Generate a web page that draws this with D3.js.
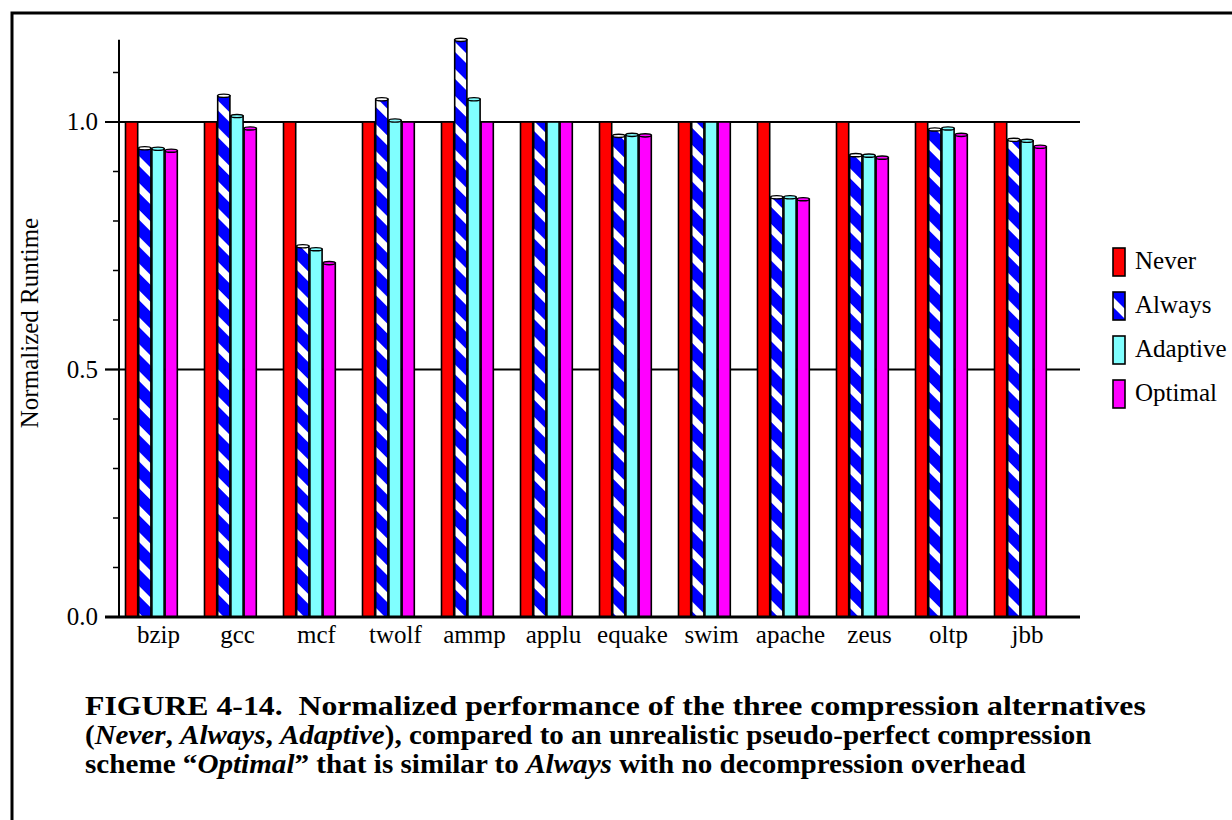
<!DOCTYPE html>
<html><head><meta charset="utf-8">
<script src="https://cdn.jsdelivr.net/npm/d3@7"></script>
<style>
html,body{margin:0;padding:0;background:#fff;}
svg{display:block;}
svg text{font-family:"Liberation Serif","Tinos","Times New Roman",Times,"DejaVu Serif",serif;}
</style>
</head><body>
<svg id="chart" width="1232" height="820"></svg>
<script>
const categories = ["bzip","gcc","mcf","twolf","ammp","applu","equake","swim","apache","zeus","oltp","jbb"];
const seriesNames = ["Never","Always","Adaptive","Optimal"];
const neverVals    = [1.0,1.0,1.0,1.0,1.0,1.0,1.0,1.0,1.0,1.0,1.0,1.0];
const alwaysVals   = [0.947,1.053,0.749,1.046,1.166,1.0,0.972,1.0,0.848,0.933,0.985,0.964];
const adaptiveVals = [0.946,1.012,0.743,1.003,1.046,1.0,0.974,1.0,0.848,0.932,0.987,0.962];
const optimalVals  = [0.942,0.987,0.715,1.0,1.0,1.0,0.973,1.0,0.844,0.928,0.974,0.950];
const yTickLabels = ["0.0","0.5","1.0"];
const yTickValues = [0, 0.5, 1.0];
const seriesValues = [neverVals, alwaysVals, adaptiveVals, optimalVals];

const svg = d3.select("#chart");

// defs: stripe pattern
const defs = svg.append("defs");
const pat = defs.append("pattern").attr("id","stripes").attr("patternUnits","userSpaceOnUse")
  .attr("width",19).attr("height",10).attr("patternTransform","rotate(-45)");
pat.append("rect").attr("width",19).attr("height",10).attr("fill","#0000ff");
pat.append("rect").attr("x",0).attr("width",7).attr("height",10).attr("fill","#ffffff");

const fills = ["#ff0000","url(#stripes)","#80ffff","#ff00ff"];
const capFills = ["#ff0000","#ffffff","#80ffff","#ff00ff"];

// frame
svg.append("rect").attr("x",12).attr("y",13).attr("width",1240).attr("height",900)
  .attr("fill","none").attr("stroke","#000").attr("stroke-width",3);

const x0 = 119, groupW = 79;
const x = d3.scaleBand().domain(categories).range([x0, x0 + groupW*categories.length]).padding(0);
const xs = d3.scaleBand().domain(seriesNames).range([6, 6 + 4*13.2]).padding(0);
const y = d3.scaleLinear().domain([0,1]).range([617,122]);
const yTop = 1.166;
const plotRight = 1080;

// gridlines at major ticks (0.5, 1.0)
svg.append("g").selectAll("line").data([0.5,1.0]).join("line")
  .attr("x1",105).attr("x2",plotRight).attr("y1",d=>y(d)).attr("y2",d=>y(d))
  .attr("stroke","#000").attr("stroke-width",2);

// bars
const data = [];
categories.forEach((c,i)=>seriesNames.forEach((s,j)=>data.push({c,s,j,v:seriesValues[j][i]})));
const bars = svg.append("g");
bars.selectAll("rect").data(data).join("rect")
  .attr("x",d=>x(d.c)+xs(d.s)+0.5)
  .attr("y",d=>y(d.v))
  .attr("width",xs.bandwidth()-1)
  .attr("height",d=>y(0)-y(d.v))
  .attr("fill",d=>fills[d.j])
  .attr("stroke","#000").attr("stroke-width",1.6);
// small 3D caps on bar tops
bars.selectAll("ellipse").data(data.filter(d=>d.j>0 && Math.abs(d.v-1)>0.002)).join("ellipse")
  .attr("cx",d=>x(d.c)+xs(d.s)+xs.bandwidth()/2)
  .attr("cy",d=>y(d.v))
  .attr("rx",(xs.bandwidth()-1)/2).attr("ry",1.6)
  .attr("fill",d=>capFills[d.j])
  .attr("stroke","#000").attr("stroke-width",1.4);

// y axis line
svg.append("line").attr("x1",x0).attr("x2",x0).attr("y1",y(yTop)).attr("y2",y(0))
  .attr("stroke","#000").attr("stroke-width",2);
// minor ticks
const minor = d3.range(0,11).map(k=>k/10).concat([1.1]);
svg.append("g").selectAll("line").data(minor).join("line")
  .attr("x1",d=>(d===0||d===0.5||d===1)?105:113).attr("x2",x0)
  .attr("y1",d=>y(d)).attr("y2",d=>y(d))
  .attr("stroke","#000").attr("stroke-width",1.5);
// bottom axis
svg.append("line").attr("x1",105).attr("x2",plotRight).attr("y1",y(0)).attr("y2",y(0))
  .attr("stroke","#000").attr("stroke-width",3);

// y tick labels
svg.append("g").selectAll("text").data(yTickValues).join("text")
  .attr("x",98).attr("y",d=>y(d)+8).attr("text-anchor","end")
  .attr("font-size",25).text((d,i)=>yTickLabels[i]);

// category labels
svg.append("g").selectAll("text").data(categories).join("text")
  .attr("x",d=>x(d)+x.bandwidth()/2).attr("y",643).attr("text-anchor","middle")
  .attr("font-size",25).text(d=>d);

// y axis title
svg.append("text").attr("transform","translate(38,323) rotate(-90)").attr("text-anchor","middle")
  .attr("font-size",25).text("Normalized Runtime");

// legend
const lg = svg.append("g");
seriesNames.forEach((s,j)=>{
  const cy = 262 + j*44;
  lg.append("rect").attr("x",1113).attr("y",cy-14).attr("width",12).attr("height",28)
    .attr("fill",fills[j]).attr("stroke","#000").attr("stroke-width",1.6);
  lg.append("text").attr("x",1135).attr("y",cy+7).attr("font-size",25).text(s);
});

// caption
const capLines = [
  {y:715, w:1061, parts:[["FIGURE 4-14.\u00a0 Normalized performance of the three compression alternatives",false]]},
  {y:744, w:1007, parts:[["(",false],["Never",true],[", ",false],["Always",true],[", ",false],["Adaptive",true],["), compared to an unrealistic pseudo-perfect compression",false]]},
  {y:773, w:941, parts:[["scheme \u201c",false],["Optimal",true],["\u201d that is similar to ",false],["Always",true],[" with no decompression overhead",false]]}
];
capLines.forEach(L=>{
  const g = svg.append("g");
  const t = g.append("text").attr("x",0).attr("y",0)
    .attr("font-size",28).attr("font-weight","bold");
  L.parts.forEach(p=>t.append("tspan").attr("font-style",p[1]?"italic":"normal").text(p[0]));
  const nat = t.node().getComputedTextLength();
  g.attr("transform",`translate(85,${L.y}) scale(${L.w/nat},1)`);
});
</script>
</body></html>
